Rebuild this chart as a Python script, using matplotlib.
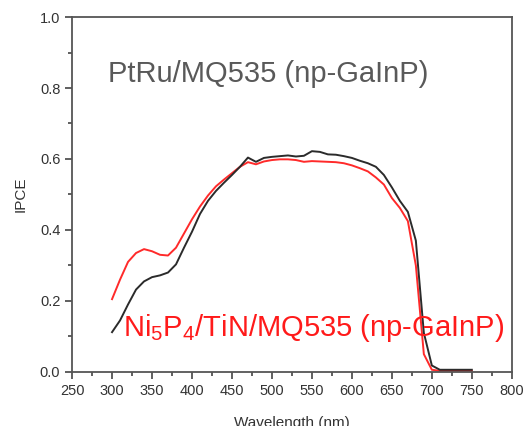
import matplotlib
matplotlib.use('Agg')
import matplotlib.pyplot as plt
from matplotlib.ticker import MultipleLocator

plt.rcParams['font.family'] = ['Liberation Sans', 'DejaVu Sans']
plt.rcParams['mathtext.fontset'] = 'custom'
plt.rcParams['mathtext.rm'] = 'Liberation Sans'

wavelength = [300, 310, 320, 330, 340, 350, 360, 370, 380, 390,
              400, 410, 420, 430, 440, 450, 460, 470, 480, 490,
              500, 510, 520, 530, 540, 550, 560, 570, 580, 590,
              600, 610, 620, 630, 640, 650, 660, 670, 680, 690,
              700, 710, 720, 730, 740, 750]

ipce_ptru = [0.112, 0.145, 0.190, 0.232, 0.255, 0.267, 0.272, 0.280, 0.303, 0.350,
             0.395, 0.445, 0.482, 0.510, 0.533, 0.555, 0.578, 0.604, 0.592, 0.603,
             0.606, 0.608, 0.610, 0.607, 0.609, 0.622, 0.620, 0.613, 0.612, 0.608,
             0.603, 0.595, 0.588, 0.578, 0.555, 0.520, 0.482, 0.451, 0.370, 0.110,
             0.018, 0.006, 0.006, 0.006, 0.006, 0.006]

ipce_ni5p4 = [0.205, 0.260, 0.310, 0.335, 0.346, 0.340, 0.330, 0.328, 0.350, 0.390,
              0.430, 0.466, 0.497, 0.523, 0.542, 0.560, 0.578, 0.591, 0.585, 0.593,
              0.597, 0.599, 0.599, 0.597, 0.592, 0.594, 0.593, 0.592, 0.591, 0.588,
              0.582, 0.574, 0.565, 0.548, 0.528, 0.490, 0.462, 0.425, 0.300, 0.050,
              0.006, 0.003, 0.003, 0.003, 0.003, 0.003]

fig = plt.figure(figsize=(5.26, 4.26), dpi=100)
ax = fig.add_axes([0.137, 0.127, 0.836, 0.833])

ax.plot(wavelength, ipce_ni5p4, color='#ff2a2a', lw=1.4)
ax.plot(wavelength, ipce_ptru, color='#2b2b2b', lw=1.4)

ax.set_xlim(250, 800)
ax.set_ylim(0, 1.0)
ax.xaxis.set_major_locator(MultipleLocator(50))
ax.xaxis.set_minor_locator(MultipleLocator(25))
ax.yaxis.set_major_locator(MultipleLocator(0.2))
ax.yaxis.set_minor_locator(MultipleLocator(0.1))
ax.tick_params(which='both', direction='out', top=False, right=False,
               colors='#444444', width=1.2, labelcolor='#333333', labelsize=10.5)
ax.tick_params(which='major', length=5)
ax.tick_params(which='minor', length=3)
for s in ax.spines.values():
    s.set_color('#555555')
    s.set_linewidth(1.3)

# x label is cropped at the bottom edge, as in the original figure
ax.set_xlabel('Wavelength (nm)', fontsize=11, color='#333333', labelpad=13)
ax.set_ylabel('IPCE', fontsize=11, color='#333333', labelpad=9)

# annotations placed in figure pixels (from top-left of the 526x426 image)
fig.text(108 / 526, 1 - 74 / 426, 'PtRu/MQ535 (np-GaInP)', fontsize=21,
         color='#595959', va='center', ha='left')
fig.text(123 / 526, 1 - 328 / 426,
         r'Ni$_{\mathregular{5}}$P$_{\mathregular{4}}$/TiN/MQ535 (np-GaInP)',
         fontsize=21, color='#ff1a1a', va='center', ha='left')

fig.savefig('out.png', dpi=100)
